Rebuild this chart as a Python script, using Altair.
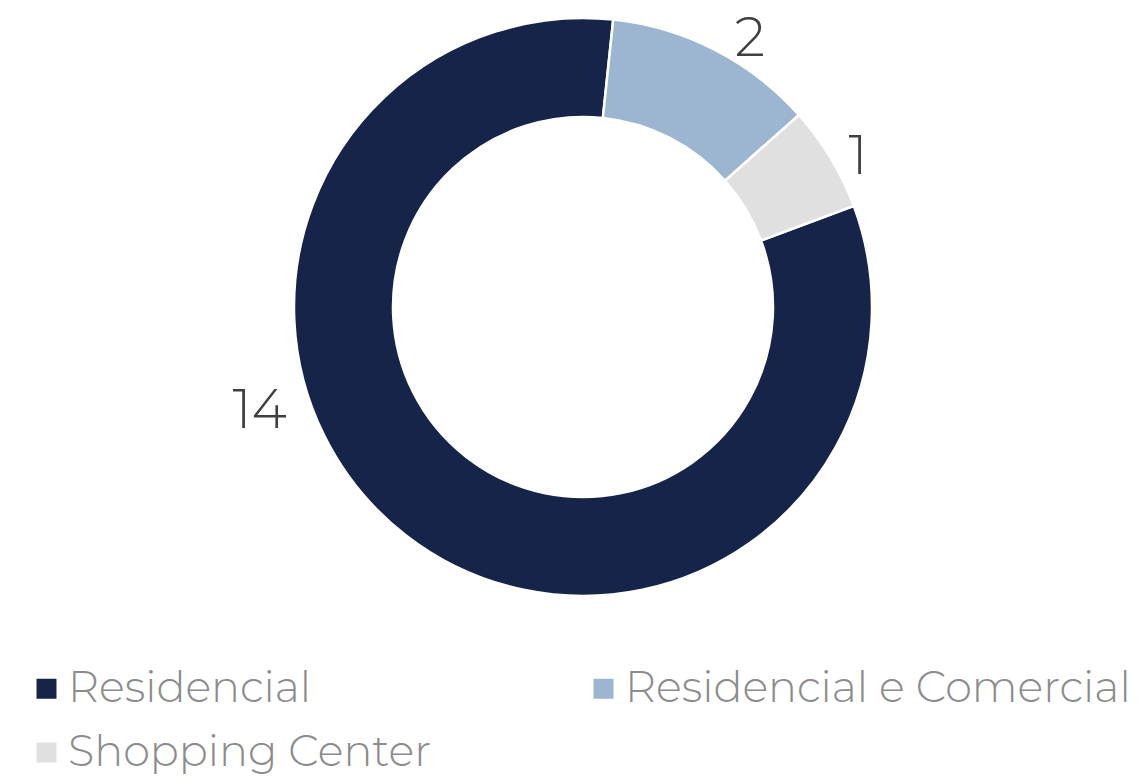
import math
import altair as alt
import pandas as pd

categories = ["Residencial", "Residencial e Comercial", "Shopping Center"]
values = [14, 2, 1]
colors = ["#16244A", "#9CB5D1", "#E0E0E0"]
legend_order = ["Residencial", "Shopping Center", "Residencial e Comercial"]
label_angle_deg = [252, 32, 61.5]
label_radius = [340, 315, 313]

color_of = dict(zip(categories, colors))
df = pd.DataFrame({"cat": categories, "val": values, "ord": [0, 1, 2]})
lab = pd.DataFrame({
    "txt": [str(v) for v in values],
    "ang": [math.radians(a) for a in label_angle_deg],
    "rad": label_radius,
})

start = math.radians(6) - 2 * math.pi * values[0] / sum(values) + 2 * math.pi
FONT = "Montserrat, Lato, Open Sans, sans-serif"
CX, CY = 575, 299

donut = alt.Chart(df).mark_arc(
    innerRadius=190, outerRadius=289, stroke="white", strokeWidth=2.5
).encode(
    theta=alt.Theta("val:Q", stack=True,
                    scale=alt.Scale(range=[start, start + 2 * math.pi])),
    color=alt.Color(
        "cat:N",
        scale=alt.Scale(domain=legend_order,
                        range=[color_of[c] for c in legend_order]),
        legend=alt.Legend(
            title=None, orient="none", legendX=17, legendY=659,
            columns=2, columnPadding=150, rowPadding=20,
            symbolType="square", symbolSize=400, symbolStrokeWidth=0,
            labelFont=FONT, labelFontSize=43, labelColor="#8C8C8C",
            labelFontWeight=300, labelOffset=0, labelLimit=700,
        ),
    ),
    order=alt.Order("ord:Q"),
    x=alt.value(CX), y=alt.value(CY),
)

labels = alt.Chart(lab).mark_text(
    font=FONT, fontSize=54, fontWeight=300, color="#404040",
    align="center", baseline="middle",
).encode(
    theta=alt.Theta("ang:Q", scale=None),
    radius=alt.Radius("rad:Q", scale=None),
    text="txt:N",
    x=alt.value(CX), y=alt.value(CY),
)

chart = alt.layer(donut, labels).properties(
    width=900, height=640, padding=0, background="white"
).configure_view(stroke=None, strokeWidth=0)

chart.save("out.html", embed_options={"renderer": "svg", "actions": False})
